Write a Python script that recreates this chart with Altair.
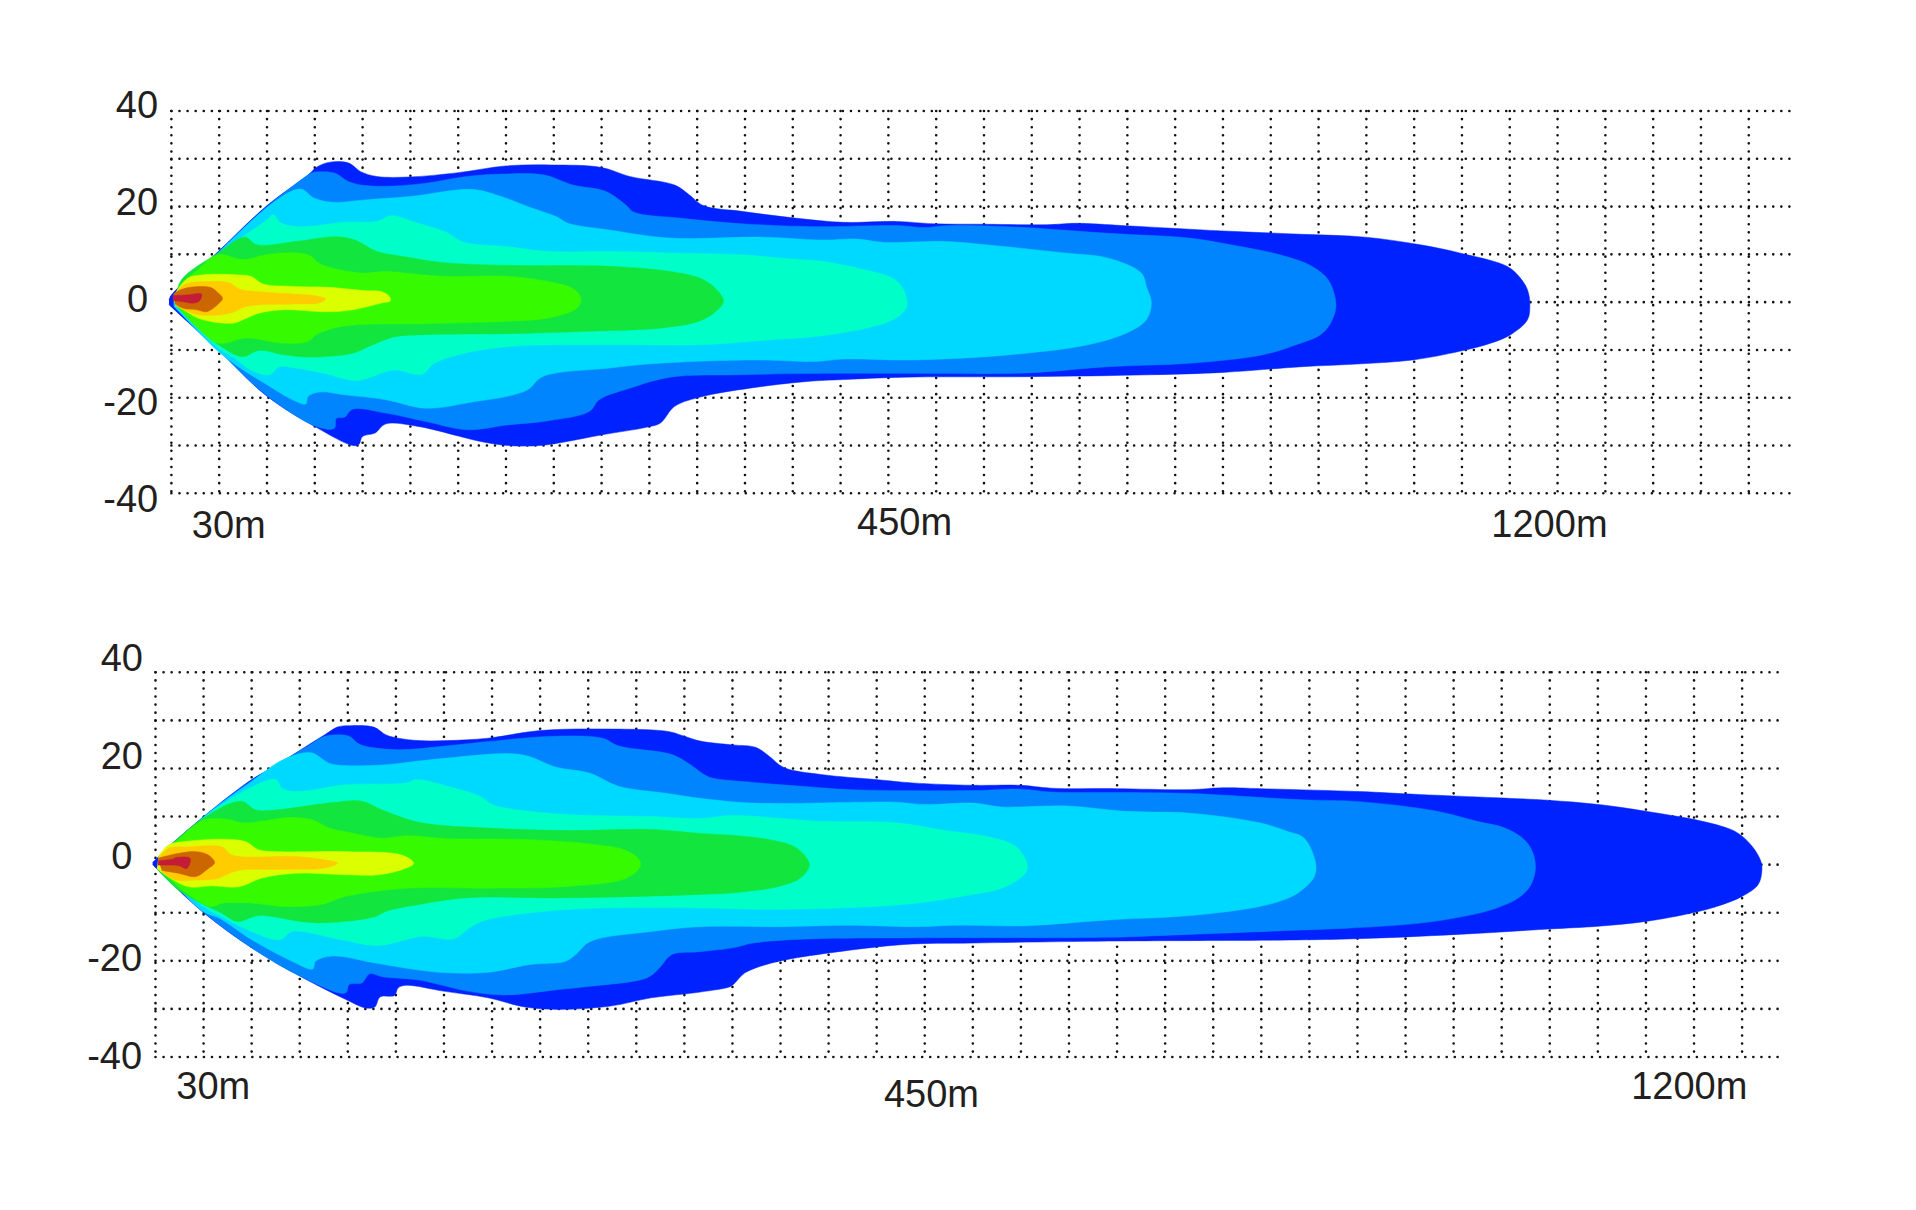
import altair as alt
import pandas as pd

COLORS = ["#0022ff", "#0085ff", "#00d9ff", "#00ffc8", "#12e63e",
          "#36fa00", "#dcff00", "#ffcc00", "#cc6600", "#c41b36"]
INK = "#231f20"
GRID_X = list(range(0, 331, 10))
GRID_Y = [-40, -30, -20, -10, 0, 10, 20, 30, 40]

# ---- upper beam contours: (distance, spread)
A1 = [(-0.5,0.5),(0,1.5),(9.8,10.6),(20,20.2),(28.6,26.6),(30.3,28.2),(33.2,29.3),(37.1,29.1),(39.6,27.3),(43,26.3),(49.9,26.2),(60,27.1),(69.9,28.5),(79.7,28.7),(89.9,28.2),(95.9,26.3),(105.3,24.5),(108.3,22.5),(111.3,20.2),(119.3,19),(130.4,17.6),(140.6,16.7),(151.7,16.9),(159.4,16.4),(170.5,16.3),(183.3,16.2),(189.2,16.5),(199.5,16),(220,14.9),(236.6,14.2),(249.8,13.6),(261.3,12),(269.5,10.3),(279.4,7.5),(281.9,5.4),(283.7,2.6),(284.2,-0.6),(283.7,-3.7),(280.2,-6.8),(276,-8.6),(269.5,-10.3),(259.7,-12.1),(249,-12.9),(236.6,-13.5),(220,-14.7),(204.6,-15.2),(179,-15.6),(153.4,-15.7),(140.6,-16.2),(133,-16.6),(121,-18),(111.3,-19.7),(105.3,-21.8),(102.3,-25.3),(99.3,-26.2),(89.9,-27.8),(83.1,-29.1),(77.2,-30),(70.3,-30),(64.4,-29.1),(60,-28),(51.6,-26),(44.8,-25.5),(42.6,-27.4),(40,-28.1),(39.2,-29.8),(37.9,-30),(30.3,-26.2),(20,-19.7),(9.8,-10),(0,-1),(-0.5,-0.5)]
A2 = [(0.4,1),(9.8,10.4),(20,20),(28.1,26.3),(29.4,27.1),(34.1,27),(37.1,25.2),(40.5,24.4),(46.5,24.3),(53.3,24.9),(61.8,26.3),(69.5,26.8),(78,26.6),(84,24.5),(90.8,23.2),(95,20.4),(96.8,18.8),(106.2,17.6),(119.3,16.4),(135.7,15.8),(147.5,16),(152.6,16),(157.7,15.6),(161.9,16),(174.7,15.8),(196,14.4),(213,13.4),(221.6,12),(231.9,9.9),(238.6,7.5),(242,4.7),(243.4,1.2),(243.6,-1.3),(242.5,-4.4),(240.4,-6.8),(235.3,-8.9),(228.4,-11),(213,-12.8),(196,-13.5),(179,-14.8),(153.4,-14.9),(136.4,-14.9),(118.8,-15.2),(104.4,-15.7),(95.9,-18),(89.5,-20.4),(87.4,-22.9),(78.9,-24.8),(70.3,-25.7),(61.8,-26.7),(53.3,-25),(44.8,-23.2),(37.9,-22.4),(36.2,-24.1),(34.5,-24.3),(34.1,-26.4),(30.3,-26),(20,-19.6),(9.8,-10),(0.4,-0.8)]
A3 = [(0.6,1),(9.8,10.3),(20,19.8),(25.1,23.2),(27.3,23.6),(29.8,21.8),(33.7,20.9),(40.5,21.4),(49.9,22.1),(62.7,23.6),(67.8,22.5),(75.4,19.7),(80.5,17.9),(83,16.5),(91.6,15.1),(104.4,13.4),(123.6,13.6),(136.4,13),(143.2,13.2),(149.2,12.5),(161.9,12.7),(170.5,12),(185.8,10.4),(196,9.2),(202.9,6.1),(204.1,2.9),(205,0.1),(204.5,-2.7),(203.3,-4.4),(199.5,-6.6),(191.8,-8.9),(175.6,-11),(155.1,-12.1),(140.6,-11.9),(134.7,-12.4),(121,-12.1),(100.2,-12.9),(91.6,-13.8),(77.6,-15.6),(74.6,-18.3),(70.3,-19.7),(63.5,-20.8),(53.3,-22.2),(44.8,-20.4),(36.2,-19.4),(31.1,-18.8),(28.6,-19.7),(28.1,-21.3),(25.1,-20.3),(20,-17.3),(14,-13.5),(9.8,-10.3),(0.6,-0.9)]
A4 = [(0.8,1),(9.8,9.9),(14.9,13.7),(20,17.2),(21.3,18.3),(23,16.5),(26.9,15.8),(36.2,16.7),(43,16.9),(46,18.1),(51.6,16.5),(57.6,14.6),(61,12.6),(70.3,11.6),(78.9,10.6),(91.6,10.6),(104.4,10.3),(119.3,9.9),(127.8,9.2),(136.4,8.5),(144.9,6.8),(150.9,5),(153,2.9),(153.9,-0.6),(152.6,-2.6),(149.2,-4.4),(136.4,-7),(123.6,-8),(110.8,-8.9),(91.6,-8.9),(70.3,-9.3),(60.1,-11),(55,-12.8),(52.4,-15.1),(46.5,-14.2),(38.8,-16.4),(32,-14.9),(26,-13.8),(22.6,-13.5),(20.5,-15.2),(16.6,-14.2),(13.2,-11.7),(9.8,-9.6),(0.8,-0.8)]
A5 = [(0.9,1),(2.1,4.7),(9.8,10.3),(15.3,13.6),(17.9,12),(26,12.7),(34.5,13.7),(38.4,13),(43,10.6),(48.2,9.6),(56.7,8.3),(70.3,7.7),(91.6,7.5),(104.4,6.4),(111.3,4.7),(114.7,1.9),(115.5,0.1),(113.8,-2),(110.4,-4),(102.7,-5.4),(87.4,-6.1),(70.3,-6.6),(53.3,-6.8),(46.5,-7.3),(41.3,-9.3),(37.9,-10.7),(29.4,-11.5),(23.4,-11),(18.3,-10.1),(14.9,-11.4),(9.8,-8.9),(3.8,-3.7),(0.9,-0.6)]
A6 = [(1,1),(1.7,3.3),(5.5,6.8),(9.8,9.9),(14.9,8.9),(20.9,10.1),(28.6,9.9),(31.1,8),(39.6,6.1),(44.8,6.4),(56.7,5.4),(70.3,5.4),(78.9,4.3),(84.4,2.6),(85.7,0.5),(84.8,-1.3),(78.9,-3.3),(70.3,-4),(53.3,-4.5),(36.2,-5),(30.3,-6.8),(28.6,-8.2),(23.4,-8.6),(15.8,-7.5),(9.8,-8.6),(5.5,-5.4),(1.3,-0.9)]
A7 = [(0.85,1.9),(3.4,5),(6.4,5.7),(14.1,5.7),(16.6,5.4),(19.2,3.8),(25.1,3.3),(32.8,3.1),(40.5,2.4),(43.9,2.2),(45.6,1.2),(45.8,0.3),(43.9,-0.2),(37.9,-1.6),(32.8,-2),(23.4,-1.6),(18.3,-2.3),(15.8,-3.3),(12.8,-4.4),(5.5,-3.3),(1.3,-0.6)]
A8 = [(0.4,1.1),(2.5,3.6),(6.7,4.3),(11.9,4.1),(14.4,2.7),(18.5,2.2),(24.1,1.8),(30.4,1.3),(32.3,0.7),(31.1,-0.1),(25.5,-0.4),(17.8,-0.6),(15.1,-1.1),(12.3,-2.3),(6,-2.7),(2.5,-1.6),(0.8,-0.6)]
A9 = [(0.4,1.7),(1.5,2.4),(3.9,3.1),(8.1,3.1),(9.5,2.2),(10.7,0.8),(9.8,-0.4),(7.4,-2),(5.3,-1.6),(2.5,-1.3),(0.8,-0.4)]
A10 = [(0.3,1.4),(3.2,1.5),(6.3,1.7),(5.9,0.3),(4.6,-0.2),(2.5,0.1),(0.3,0.3)]

# ---- lower beam contours
B1 = [(-0.6,0.5),(0,1),(1.3,2.4),(10,10),(20,17.7),(24.2,20.1),(31.8,24.9),(35.2,27),(37.8,28.6),(40.3,28.9),(45.4,28.6),(47.9,27),(50.5,26.3),(54.8,25.8),(60.7,25.8),(69.2,26.3),(80,27.9),(94.7,28.2),(106.6,27.7),(110,26.7),(113.3,25.7),(120,24.9),(124.8,24.4),(127.7,22.5),(130.7,20.2),(138.8,18.7),(149.8,17.7),(157.4,17),(170,16.5),(180,16.5),(186.3,15.9),(200,15.8),(215.2,15.6),(222,16),(230,15.8),(250.4,15.2),(262.7,14.6),(279,13.9),(289.6,13.4),(300.2,12.5),(310,11.1),(323.1,8.7),(328.9,6.7),(332.1,3.8),(333.9,0.7),(334.1,-1.4),(333.3,-4.2),(330,-6.6),(324.7,-8.7),(319.8,-10),(310,-11.8),(300.2,-12.8),(289.6,-13.4),(270.9,-14.5),(246.4,-15.5),(198.2,-15.9),(170,-16.3),(155.7,-16.6),(141.3,-18.2),(131.5,-19.7),(126.9,-20.8),(122.6,-22.5),(120.5,-24.6),(119.7,-25.3),(113.3,-26.5),(103.1,-27.7),(94.7,-29.4),(83.6,-30.1),(76.8,-29.6),(69.2,-27.7),(59.8,-26.3),(52.2,-25.1),(50.5,-25.6),(49.7,-27.2),(46.7,-27.5),(45.6,-29.6),(43.7,-29.8),(39.5,-28),(30.1,-23.2),(20,-17.3),(10,-10),(2.5,-3.1),(0,-0.6),(-0.6,0)]
B2 = [(1,1.5),(10,9.9),(20,17.5),(31.8,24.7),(35.2,26.7),(40.3,26.7),(42,25.3),(43.7,24.6),(50.5,23.9),(60.7,24.7),(69.2,25.6),(82.8,26.7),(93,26.3),(96.3,24.7),(107.4,22.9),(110.8,21.1),(114.2,18.7),(115.8,18),(124.3,17.1),(134.5,16.3),(144.7,15.6),(170,15.4),(180,15.7),(186.3,15.1),(200,15),(215.2,14.8),(238.2,13.5),(250.4,13.1),(266,11.2),(274.9,9),(280.7,7.6),(284.7,5.2),(286.5,2.4),(287,-1),(285.9,-4.5),(283.5,-6.9),(279,-9),(272.4,-10.7),(262.7,-12.2),(248,-13.2),(238.2,-13.6),(215.2,-14.5),(198.2,-15.1),(164.2,-15.2),(134.5,-15.5),(124.3,-16.3),(120.1,-17.3),(113.3,-18.1),(107.4,-18.7),(104.8,-21.5),(102.3,-23.5),(90.4,-25.3),(83.6,-26),(72.6,-27.1),(64.9,-26.3),(54.8,-24),(47.1,-23.3),(44.6,-22.7),(42.9,-24.6),(40.3,-24.9),(39.5,-26.7),(30.1,-23.2),(20,-17.3),(10,-9.9),(1,-1)]
B3 = [(1.2,1.5),(10,9.9),(20,17.3),(25.9,21.5),(30.6,23.2),(32.7,23.2),(36.1,21.1),(39.5,20.6),(48,20.8),(59,22),(73.4,23.1),(77.7,22.5),(83.2,20.3),(90.4,19),(96.3,16.3),(106.5,14.8),(113.3,13.8),(124.3,12.8),(147,13),(154,13),(160,12.5),(170,12.8),(176,12),(189.7,12.2),(201.6,11.1),(215.2,10.7),(229.6,8.7),(235.5,6.9),(238.9,5.5),(241.3,0.3),(241,-2.5),(238.9,-4.9),(236,-6.8),(229.6,-8.7),(215.2,-10.6),(198.2,-11.5),(181.2,-12.7),(166.8,-12.6),(158.3,-12.9),(143.9,-12.6),(130.3,-12.9),(113.3,-12.9),(103.1,-13.9),(90.4,-16),(87.4,-18.7),(85.3,-20.1),(77.7,-20.8),(69.2,-22.4),(60.7,-22.5),(53.9,-21.8),(45.4,-20.4),(36.9,-19),(33.3,-20.1),(32.7,-21.7),(28.4,-20.1),(20,-15.6),(13.2,-11.1),(10,-9.8),(1.2,-1.2)]
B4 = [(1.3,1.5),(10,9.7),(18.3,15.2),(25,17.7),(26.3,15.9),(29.3,15.2),(39.5,16.6),(52.2,17),(54.3,17.7),(60.7,16.3),(67.5,14.2),(70,12.5),(77.7,11.1),(86.2,10.4),(103.1,10),(113.3,9.6),(120,10.2),(138.8,9),(154,8.7),(164.2,7.1),(172.7,5.9),(178.3,4.2),(180.2,2.4),(181.3,-1),(177,-4.5),(167.6,-6.6),(154,-8.4),(128.6,-9.3),(113.3,-9),(86.2,-9.3),(69.2,-11.4),(65.8,-12.8),(62,-15.4),(55.6,-14.9),(46.3,-16.8),(38.6,-15.6),(28.4,-13.9),(25.9,-15.6),(20,-13.9),(14.9,-11.4),(10,-8.7),(1.3,-1.2)]
B5 = [(1.3,2.4),(10,9.7),(17.8,13.2),(20.8,11.4),(24.2,11.3),(36.9,12.9),(42.9,13.2),(47.1,11.4),(54.8,8.8),(69.2,7.6),(86.2,7.1),(103.1,7.3),(113.3,6.5),(120,6.1),(127.7,5.2),(132.8,3.8),(135.2,1.7),(136,-0.2),(134.1,-2.8),(129.8,-4.5),(120.9,-5.8),(113.3,-6.2),(86.2,-6.9),(64.9,-6.9),(54.8,-8.3),(48,-9.7),(45.4,-10.9),(35.2,-12.1),(30.1,-11.8),(21.6,-10.6),(17,-11.8),(13.6,-10),(10,-8.3),(4.7,-5.2),(0.4,-1)]
B6 = [(0.8,1.7),(4.7,5.2),(10,9.3),(15.7,9.3),(17.8,8.7),(23.3,9.2),(27.6,9.8),(32.7,9.3),(36.1,7.6),(40.3,6.7),(47.1,5.5),(52.2,6),(60.7,5.4),(77.7,5.2),(90.4,4.3),(98,2.9),(100.6,1),(100.8,-0.4),(98,-2.8),(86.2,-4.5),(69.2,-4.9),(52.2,-4.9),(39.5,-6.6),(34.4,-8.3),(26.7,-8.7),(20,-8),(14,-8),(11.5,-8.7),(6.4,-5.9),(0.8,-1)]
B7 = [(0.6,1.7),(2.7,4.1),(6.2,4.8),(13.8,5.3),(18.7,4.8),(21.4,3.1),(25.6,2.7),(39.5,2.7),(51.2,2),(53.7,0.3),(51.9,-0.8),(46.4,-2.1),(39.5,-2.1),(29.1,-1.8),(22.1,-2.8),(17.3,-4.6),(11.7,-4.4),(6.9,-4.6),(2,-2.1),(0.3,-0.8)]
B8 = [(0.6,1.3),(2.7,3.4),(6.9,3.7),(13.8,3.7),(15.9,2),(29.1,1.7),(34.6,1.1),(37.9,0.3),(36.7,-0.3),(34.6,-0.8),(25.6,-1),(17.3,-1.2),(12.4,-3),(8.3,-3.2),(4.1,-3.2),(1.3,-1.5)]
B9 = [(0.5,1.3),(3.1,2),(8.3,2.7),(11,2),(12.3,0.4),(11,-0.8),(8.3,-2.5),(4.8,-1.8),(1.3,-1.2)]
B10 = [(0.5,0.8),(3.4,1.1),(4.4,1.5),(7.2,1.3),(6.5,-0.8),(4.8,-0.2),(2,-0.1),(0.5,-0.1)]

# ---- labels: (text, x, y)
LABELS_A = [("40",-7.2,41.3),("20",-7.2,20.9),("0",-7.1,0.7),("-20",-8.5,-20.8),("-40",-8.5,-41.2),
            ("30m",12,-46.6),("450m",153.4,-46.1),("1200m",288.3,-46.4)]
LABELS_B = [("40",-7,42.9),("20",-7,22.5),("0",-7,1.8),("-20",-8.5,-19.4),("-40",-8.5,-39.7),
            ("30m",12,-46.1),("450m",161.4,-47.6),("1200m",319,-46.1)]


def panel(contours, labels, xmax, xrange, yrange, gap):
    sx = alt.Scale(domain=[0, xmax], range=xrange, nice=False, zero=False)
    sy = alt.Scale(domain=[-40, 40], range=yrange, nice=False, zero=False)
    X = alt.X("x:Q", scale=sx, axis=None)
    Y = alt.Y("y:Q", scale=sy, axis=None)
    dot = dict(color="#111111", strokeWidth=2.6, strokeCap="round", strokeDash=[0.01, gap])
    layers = [
        alt.Chart(pd.DataFrame({"x": GRID_X, "y": 40, "y2": -40})).mark_rule(**dot).encode(
            x=X, y=Y, y2="y2:Q"),
        alt.Chart(pd.DataFrame({"x": 0, "x2": xmax, "y": GRID_Y})).mark_rule(**dot).encode(
            x=X, x2="x2:Q", y=Y),
    ]
    for pts, color in zip(contours, COLORS):
        df = pd.DataFrame(pts, columns=["x", "y"])
        df["i"] = range(len(df))
        layers.append(
            alt.Chart(df).mark_line(fill=color, stroke=color, strokeWidth=0.5, clip=False,
                                    interpolate="catmull-rom").encode(
                x=X, y=Y, order="i:Q"))
    tdf = pd.DataFrame(labels, columns=["t", "x", "y"])
    layers.append(
        alt.Chart(tdf).mark_text(font="Liberation Sans", fontSize=38, color=INK, align="center",
                                 baseline="middle", dy=2).encode(x=X, y=Y, text="t:N"))
    return alt.layer(*layers)


top = panel([A1, A2, A3, A4, A5, A6, A7, A8, A9, A10], LABELS_A, 338.5, [163.4, 1781.4], [485.3, 103], 8.08)
bottom = panel([B1, B2, B3, B4, B5, B6, B7, B8, B9, B10], LABELS_B, 338.9, [147.5, 1776.9], [1049, 664.3], 8.06)

chart = (
    alt.layer(top, bottom)
    .resolve_scale(x="independent", y="independent")
    .properties(width=1900, height=1194, padding=0, autosize=alt.AutoSizeParams(type="none"))
    .configure_view(stroke=None)
)
chart.save("out.html", embed_options={"renderer": "svg", "actions": False})
